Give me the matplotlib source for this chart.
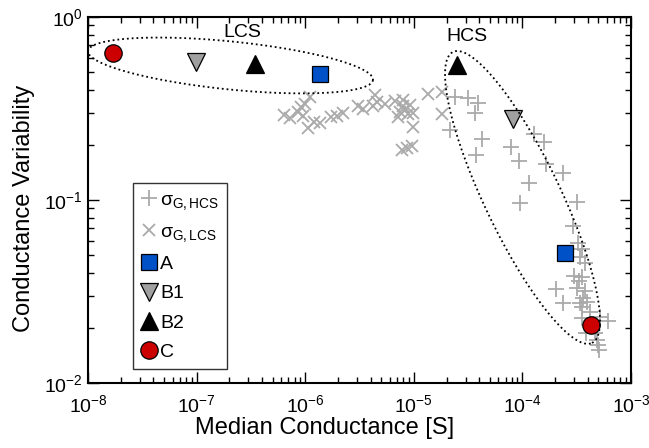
import matplotlib
matplotlib.use("Agg")
import matplotlib.pyplot as plt
import numpy as np

plt.rcParams['font.family'] = ['Liberation Sans', 'DejaVu Sans']
plt.rcParams['mathtext.fontset'] = 'custom'
plt.rcParams['mathtext.rm'] = 'Liberation Sans'
plt.rcParams['mathtext.it'] = 'Liberation Sans'
plt.rcParams['axes.unicode_minus'] = False

# sigma_G for high conductance state samples
hcs_g = [2.39e-5, 3.15e-5, 3.90e-5, 3.66e-5, 2.15e-5, 4.25e-5, 3.74e-5, 7.85e-5,
         9.31e-5, 1.28e-4, 1.58e-4, 1.65e-4, 2.37e-4, 1.15e-4, 9.51e-5, 3.18e-4,
         2.95e-4, 3.25e-4, 3.54e-4, 3.39e-4, 3.77e-4, 2.99e-4, 3.54e-4, 3.32e-4,
         2.04e-4, 3.18e-4, 3.77e-4, 3.61e-4, 2.37e-4, 3.39e-4, 3.94e-4, 3.54e-4,
         4.19e-4, 5.19e-4, 6.14e-4, 3.54e-4, 3.86e-4, 4.67e-4, 4.86e-4, 4.97e-4,
         5.07e-4]
hcs_var = [0.367, 0.361, 0.339, 0.299, 0.241, 0.216, 0.176, 0.195,
           0.163, 0.230, 0.207, 0.157, 0.1405, 0.124, 0.0963, 0.0975,
           0.0720, 0.0582, 0.0540, 0.0488, 0.0453, 0.0384, 0.0380, 0.0361,
           0.0327, 0.0330, 0.0318, 0.0291, 0.0274, 0.0274, 0.0277, 0.0260,
           0.0244, 0.0230, 0.0218, 0.0227, 0.0188, 0.0188, 0.0172, 0.0161,
           0.0151]

# sigma_G for low conductance state samples
lcs_g = [6.38e-7, 7.24e-7, 8.59e-7, 9.14e-7, 9.95e-7, 1.11e-6, 9.55e-7, 1.06e-6,
         1.21e-6, 1.37e-6, 1.73e-6, 1.96e-6, 2.23e-6, 3.06e-6, 3.40e-6, 4.21e-6,
         4.40e-6, 4.58e-6, 5.43e-6, 6.71e-6, 7.96e-6, 7.96e-6, 7.46e-6, 7.16e-6,
         8.30e-6, 8.85e-6, 9.84e-6, 9.84e-6, 7.78e-6, 8.65e-6, 9.61e-6, 1.35e-5,
         1.82e-5, 1.82e-5, 9.23e-6]
lcs_var = [0.291, 0.281, 0.303, 0.322, 0.335, 0.366, 0.288, 0.247,
           0.267, 0.264, 0.284, 0.288, 0.299, 0.326, 0.314, 0.326,
           0.375, 0.343, 0.335, 0.348, 0.352, 0.326, 0.303, 0.284,
           0.310, 0.295, 0.299, 0.251, 0.1876, 0.192, 0.197, 0.380,
           0.389, 0.295, 0.330]

# devices: [LCS, HCS]
dev_A_g = [1.37e-6, 2.47e-4]
dev_A_var = [0.488, 0.0513]
dev_B1_g = [9.9e-8, 8.2e-5]
dev_B1_var = [0.568, 0.277]
dev_B2_g = [3.45e-7, 2.5e-5]
dev_B2_var = [0.555, 0.547]
dev_C_g = [1.7e-8, 4.3e-4]
dev_C_var = [0.636, 0.0207]

fig = plt.figure(figsize=(6.49, 4.48), dpi=100)
ax = fig.add_axes([0.1356, 0.1451, 0.8367, 0.8170])

grey = '#aaaaaa'
ax.plot(hcs_g, hcs_var, '+', color=grey, ms=11, mew=1.3, label=r'σ$_{\mathrm{G,HCS}}$')
ax.plot(lcs_g, lcs_var, 'x', color=grey, ms=8, mew=1.3, label=r'σ$_{\mathrm{G,LCS}}$')
ax.plot(dev_A_g, dev_A_var, 's', color='#0050c8', mec='black', mew=0.9, ms=11, ls='none', label='A')
ax.plot(dev_B1_g, dev_B1_var, 'v', color='#a0a0a0', mec='black', mew=0.9, ms=13, ls='none', label='B1')
ax.plot(dev_B2_g, dev_B2_var, '^', color='black', mec='black', mew=0.9, ms=13, ls='none', label='B2')
ax.plot(dev_C_g, dev_C_var, 'o', color='#cc0000', mec='black', mew=0.9, ms=12.5, ls='none', label='C')

# dotted ellipses drawn in log-log space
t = np.linspace(0, 2 * np.pi, 300)
def log_ellipse(c, u, v):
    lx = c[0] + np.cos(t) * u[0] + np.sin(t) * v[0]
    ly = c[1] + np.cos(t) * u[1] + np.sin(t) * v[1]
    ax.plot(10 ** lx, 10 ** ly, ':', color='black', lw=1.3)

log_ellipse((-6.688, -0.265), (1.312, -0.079), (-0.023, -0.1305))
log_ellipse((-3.999, -0.986), (0.640, -0.795), (0.316, 0.090))

ax.text(2.62e-7, 0.818, 'LCS', fontsize=14, ha='center', va='center')
ax.text(3.09e-5, 0.778, 'HCS', fontsize=14, ha='center', va='center')

ax.set_xscale('log')
ax.set_yscale('log')
ax.set_xlim(1e-8, 1e-3)
ax.set_ylim(1e-2, 1)
ax.set_xlabel('Median Conductance [S]', fontsize=17)
ax.set_ylabel('Conductance Variability', fontsize=17)
ax.xaxis.set_label_coords(0.4365, -0.093)
ax.yaxis.set_label_coords(-0.098, 0.478)

ax.tick_params(which='both', direction='in', top=True, right=True, labelsize=14)
ax.tick_params(axis='x', which='major', pad=8)
ax.tick_params(which='major', length=8, width=1)
ax.tick_params(which='minor', length=4, width=1)
for s in ax.spines.values():
    s.set_linewidth(1.5)

leg = ax.legend(loc='upper left', bbox_to_anchor=(0.083, 0.546), borderaxespad=0,
                fontsize=14, frameon=True, fancybox=False, handlelength=0.8,
                handletextpad=0.2, labelspacing=0.6, borderpad=0.4)
leg.get_frame().set_edgecolor('black')
leg.get_frame().set_linewidth(1)

fig.savefig('out.png', dpi=100)
